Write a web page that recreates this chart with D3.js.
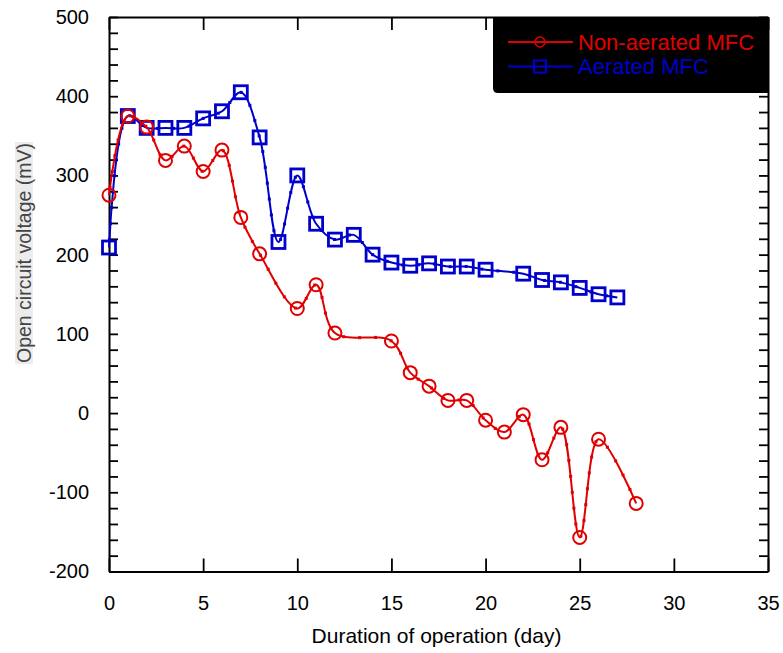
<!DOCTYPE html>
<html>
<head>
<meta charset="utf-8">
<script src="https://cdn.jsdelivr.net/npm/d3@7"></script>
<style>
  body { margin: 0; background: #fff; }
  text { font-family: "Liberation Sans", Arial, sans-serif; }
</style>
</head>
<body>
<div id="chart"></div>
<script>
// values
var daysNon = [0, 1, 2, 3, 4, 5, 6, 7, 8, 10, 11, 12, 15, 16, 17, 18, 19, 20, 21, 22, 23, 24, 25, 26, 28];
var voltNon = [275, 375, 361, 319, 337, 305, 332, 247, 201, 132, 162, 101, 91, 51, 34, 16, 16, -9, -24, -2, -59, -18, -157, -33, -114];
var daysAer = [0, 1, 2, 3, 4, 5, 6, 7, 8, 9, 10, 11, 12, 13, 14, 15, 16, 17, 18, 19, 20, 22, 23, 24, 25, 26, 27];
var voltAer = [209, 375, 360, 360, 360, 372, 381, 405, 348, 216, 300, 239, 219, 225, 200, 190, 186, 189, 185, 185, 181, 176, 168, 165, 158, 150, 146];
var xTicks = [0, 5, 10, 15, 20, 25, 30, 35];
var yTicks = d3.range(-200, 501, 20);
var seriesNames = ["Non-aerated MFC", "Aerated MFC"];

var width = 783;
var height = 653;
// plot frame (don't call these top/left, window.top is taken)
var plotL = 109, plotR = 768, plotT = 17, plotB = 571.5;

var svg = d3.select("#chart")
    .append("svg")
    .attr("width", width)
    .attr("height", height);

var x = d3.scaleLinear().domain([0, 35]).range([plotL, plotR]);
var y = d3.scaleLinear().domain([-200, 500]).range([plotB, plotT]);

var red = "#e00000";
var blue = "#0000cc";

// frame with inward ticks on all four sides
function styleAxis(g) {
    g.select(".domain").attr("stroke", "#000").attr("stroke-width", 2);
    g.selectAll(".tick line").attr("stroke", "#000").attr("stroke-width", 1.8);
    g.selectAll(".tick text").attr("fill", "#000").style("font-size", "20px")
        .style("font-family", "'Liberation Sans', Arial, sans-serif");
}

svg.append("g")
    .attr("transform", "translate(0," + plotB + ")")
    .call(d3.axisBottom(x).tickValues(xTicks).tickSize(-13).tickSizeOuter(0).tickPadding(24))
    .call(styleAxis);

svg.append("g")
    .attr("transform", "translate(0," + plotT + ")")
    .call(d3.axisTop(x).tickValues(xTicks).tickSize(-13).tickSizeOuter(0).tickFormat(""))
    .call(styleAxis);

svg.append("g")
    .attr("transform", "translate(" + plotL + ",0)")
    .call(d3.axisLeft(y).tickValues(yTicks).tickSize(-9).tickSizeOuter(0).tickPadding(20)
        .tickFormat(function (d) { return d % 100 === 0 ? d : ""; }))
    .call(styleAxis);

svg.append("g")
    .attr("transform", "translate(" + plotR + ",0)")
    .call(d3.axisRight(y).tickValues(yTicks).tickSize(-9).tickSizeOuter(0).tickFormat(""))
    .call(styleAxis);

// axis titles
svg.append("text")
    .attr("x", (plotL + plotR) / 2 - 2)
    .attr("y", 643)
    .attr("text-anchor", "middle")
    .style("font-size", "21px")
    .text("Duration of operation (day)");

svg.append("rect")
    .attr("x", 15).attr("y", 142)
    .attr("width", 18).attr("height", 222)
    .attr("fill", "#ececec");

svg.append("text")
    .attr("transform", "translate(31,253) rotate(-90)")
    .attr("text-anchor", "middle")
    .attr("fill", "#444")
    .style("font-size", "19.5px")
    .text("Open circuit voltage (mV)");

// curves
var line = d3.line()
    .x(function (d) { return x(d[0]); })
    .y(function (d) { return y(d[1]); })
    .curve(d3.curveCatmullRom.alpha(0.5));

var nonData = daysNon.map(function (d, i) { return [d, voltNon[i]]; });
var aerData = daysAer.map(function (d, i) { return [d, voltAer[i]]; });

function drawSeries(data, color, marker) {
    var path = svg.append("path")
        .datum(data)
        .attr("fill", "none")
        .attr("stroke", color)
        .attr("stroke-width", 2)
        .attr("d", line);

    // small dots along the smoothed curve
    var node = path.node();
    var total = node.getTotalLength();
    var pts = d3.range(8, total, 16).map(function (l) { return node.getPointAtLength(l); });
    svg.append("g").selectAll("rect")
        .data(pts)
        .enter()
        .append("rect")
        .attr("x", function (p) { return p.x - 1.5; })
        .attr("y", function (p) { return p.y - 1.5; })
        .attr("width", 3)
        .attr("height", 3)
        .attr("fill", color);

    var g = svg.append("g");
    if (marker === "circle") {
        g.selectAll("circle")
            .data(data)
            .enter()
            .append("circle")
            .attr("cx", function (d) { return x(d[0]); })
            .attr("cy", function (d) { return y(d[1]); })
            .attr("r", 6.5)
            .attr("fill", "none")
            .attr("stroke", color)
            .attr("stroke-width", 2);
    } else {
        g.selectAll("rect")
            .data(data)
            .enter()
            .append("rect")
            .attr("x", function (d) { return x(d[0]) - 6.5; })
            .attr("y", function (d) { return y(d[1]) - 6.5; })
            .attr("width", 13)
            .attr("height", 13)
            .attr("fill", "none")
            .attr("stroke", color)
            .attr("stroke-width", 2.8);
    }
}

drawSeries(aerData, blue, "square");
drawSeries(nonData, red, "circle");

// legend
var lg = svg.append("g");
lg.append("path")
    .attr("d", "M493,17 H768 V93 H498 Q493,93 493,88 Z")
    .attr("fill", "#000");

var legendColors = [red, blue];
seriesNames.forEach(function (name, i) {
    var ly = 42 + i * 24.5;
    lg.append("line")
        .attr("x1", 508).attr("x2", 573)
        .attr("y1", ly).attr("y2", ly)
        .attr("stroke", legendColors[i])
        .attr("stroke-width", 2);
    if (i === 0) {
        lg.append("circle")
            .attr("cx", 540).attr("cy", ly).attr("r", 5)
            .attr("fill", "none").attr("stroke", red).attr("stroke-width", 1.5);
    } else {
        lg.append("rect")
            .attr("x", 534).attr("y", ly - 6)
            .attr("width", 12).attr("height", 12)
            .attr("fill", "none").attr("stroke", blue).attr("stroke-width", 2);
    }
    lg.append("text")
        .attr("x", 578)
        .attr("y", ly + 7.5)
        .attr("fill", legendColors[i])
        .style("font-size", "22px")
        .text(name);
});
</script>
</body>
</html>
